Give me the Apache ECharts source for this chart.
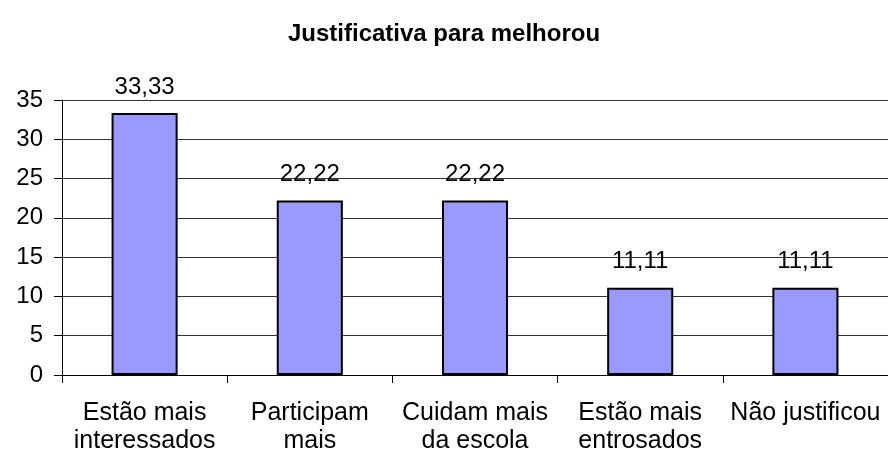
<!DOCTYPE html>
<html>
<head>
<meta charset="utf-8">
<script src="https://cdn.jsdelivr.net/npm/echarts@6/dist/echarts.min.js"></script>
<style>
  html, body { margin: 0; padding: 0; background: #fff; }
  #chart { width: 888px; height: 457px; }
</style>
</head>
<body>
<div id="chart"></div>
<script>
const categories = ['Estão mais\ninteressados', 'Participam\nmais', 'Cuidam mais\nda escola', 'Estão mais\nentrosados', 'Não justificou'];
const values = [33.33, 22.22, 22.22, 11.11, 11.11];
const yTicks = { min: 0, max: 35, interval: 5 };

const chart = echarts.init(document.getElementById('chart'));
const font = 'Liberation Sans, Arial, sans-serif';

chart.setOption({
  animation: false,
  title: {
    text: 'Justificativa para melhorou',
    left: 'center',
    top: 17,
    textStyle: { fontFamily: font, fontSize: 24, fontWeight: 'bold', color: '#000' }
  },
  grid: { left: 62, top: 100, width: 830, height: 275 },
  xAxis: {
    type: 'category',
    data: categories,
    axisLine: { lineStyle: { color: '#000', width: 1 } },
    axisTick: { show: true, length: 8, lineStyle: { color: '#000' } },
    axisLabel: {
      interval: 0,
      color: '#000',
      fontFamily: font,
      fontSize: 25,
      lineHeight: 28,
      margin: 24
    },
    splitLine: { show: false }
  },
  yAxis: {
    type: 'value',
    min: yTicks.min,
    max: yTicks.max,
    interval: yTicks.interval,
    axisLine: { show: true, lineStyle: { color: '#000', width: 1 } },
    axisTick: { show: true, length: 8, lineStyle: { color: '#000' } },
    axisLabel: { color: '#000', fontFamily: font, fontSize: 24, margin: 19 },
    splitLine: { show: true, lineStyle: { color: '#333', width: 1 } }
  },
  series: [{
    type: 'bar',
    data: values,
    barWidth: '40%',
    itemStyle: { color: '#9999FF', borderColor: '#000', borderWidth: 2 },
    label: {
      show: true,
      position: 'top',
      distance: 14,
      color: '#000',
      fontFamily: font,
      fontSize: 24,
      formatter: p => p.value.toFixed(2).replace('.', ',')
    }
  }]
});
</script>
</body>
</html>
